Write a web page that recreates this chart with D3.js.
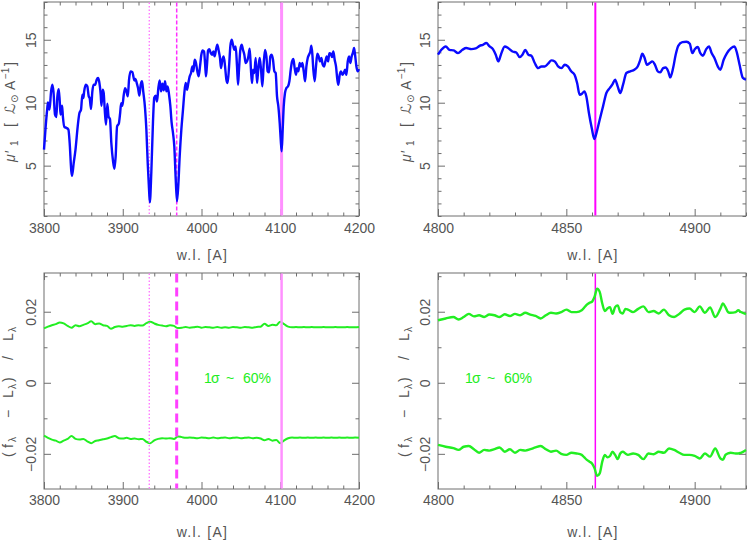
<!DOCTYPE html>
<html><head><meta charset="utf-8">
<script src="https://cdn.jsdelivr.net/npm/d3@7"></script>
<style>
html,body{margin:0;padding:0;background:#fff;}
svg{display:block;font-family:"Liberation Sans","DejaVu Sans",Arial,sans-serif;}
</style></head>
<body><svg id="c" width="747" height="541"></svg>
<script>
// ---------- data ----------
const tlWave = [3800,3802,3804,3805,3807,3809,3810.6,3812,3814,3815.7,3817,3818.7,3820,3821,3823,3824,3826,3828.5,3831,3832.6,3834.7,3835.6,3837.7,3840,3842.8,3845,3847,3848.7,3850,3851,3853,3855,3856.8,3858,3859.7,3861.4,3863,3865,3866.9,3868.6,3870,3872,3873,3874.5,3875.8,3877,3878.7,3880.4,3882,3883.8,3885.5,3887.7,3889.4,3891,3892.8,3895,3896.7,3898,3899.5,3901.3,3903,3904.7,3906.4,3908,3910,3912.2,3914.8,3916,3917.8,3919.4,3921.1,3922.8,3924.5,3926,3928.3,3930,3931.7,3933.4,3934.4,3936.3,3938.4,3940,3941.8,3943.5,3945.2,3946.9,3948.6,3950.3,3952,3953.7,3955.4,3957,3958.8,3960.4,3962.1,3963.8,3965.5,3967.2,3968.9,3970.6,3972.3,3974.4,3976.5,3978.2,3979.9,3981.6,3983.3,3985,3986.7,3988.4,3989.7,3991.3,3993,3994.7,3996.4,3998.1,3999.8,4001.5,4003.2,4004.5,4005.7,4007,4008.3,4010,4011.7,4013.4,4015,4016.7,4018.4,4020.1,4021.8,4023.5,4024.8,4026.5,4028.2,4029.9,4031.6,4033.2,4035,4036.6,4038.3,4040,4041.7,4043.4,4045.1,4046.4,4047.6,4049.3,4051,4052.7,4054.4,4056.1,4057.8,4059.5,4061.2,4062.9,4064.2,4065.4,4067.1,4068.8,4070.5,4072.2,4073.9,4075.6,4077.3,4079,4080.7,4082.4,4084,4085.8,4087.4,4089.1,4090.8,4092.5,4094.2,4095.9,4097.6,4099.3,4100.6,4101.8,4103.1,4104.4,4106,4107.8,4109.9,4111.6,4113.3,4115,4116.7,4118.3,4120,4121.3,4123,4124.7,4126.4,4128.1,4129.8,4131.5,4133.2,4134.9,4136.5,4138.2,4139.5,4140.8,4142,4143.7,4145.4,4147.1,4148.8,4150.5,4152.2,4153.9,4155.6,4157.3,4159,4160.7,4162.4,4164.1,4165.8,4167.4,4169.1,4170.8,4172.5,4173.8,4175.5,4177.2,4178.9,4180.6,4182.3,4184,4185.7,4187.4,4189,4190.7,4192.4,4193.7,4195,4196.7,4198.4,4200];
const tlFlux = [6.27,8.0,9.45,10.03,9.45,10.9,11.43,10.9,9.05,8.86,10.5,11.08,10.1,9.05,9.76,8.9,8.07,8.0,7.86,6.8,4.55,4.2,5.2,6.27,8.12,9.18,9.45,10.63,10.37,10.9,11.43,11.3,10.5,10.37,9.5,10.9,11.43,11.43,11.83,11.96,11.7,10.63,9.76,11.03,10.77,9.57,8.25,9.92,8.9,8.7,6.8,5.34,4.74,5.74,8.12,8.33,9.18,9.97,9.76,10.63,11.16,10.9,10.5,11.83,12.49,12.43,11.77,11.88,11.56,11.16,10.56,11.43,11.7,10.9,9.57,7.86,5.21,3.1,2.09,4.5,8.5,10.4,10.56,10.1,11.16,11.77,10.9,11.5,10.98,11.7,10.9,11.3,10.63,9.76,8.39,7.6,6.5,4.0,2.17,3.5,5.74,7.86,9.45,10.77,11.56,11.03,11.56,12.09,12.36,12.88,12.49,13.41,13.15,12.49,12.09,12.88,13.81,14.15,14.07,13.15,12.09,13.02,14.15,14.26,13.94,13.81,14.07,13.68,14.2,14.6,14.15,13.55,12.75,13.41,13.68,12.88,11.83,11.56,12.88,14.47,15.0,14.6,14.2,14.47,12.88,11.43,12.62,14.2,14.6,14.2,13.81,13.15,13.28,13.68,14.3,12.5,11.56,12.62,12.36,13.55,11.56,12.75,13.55,12.62,11.3,13.15,14.2,13.68,12.49,12.41,13.68,13.81,13.41,12.49,12.36,10.5,9.71,8.39,7.07,6.14,7.86,9.71,10.77,11.16,11.3,11.7,12.62,13.28,13.47,12.75,12.22,12.75,12.49,13.15,12.88,13.15,12.49,11.7,12.88,13.55,13.81,14.07,14.52,13.81,12.62,11.7,12.88,13.89,13.68,13.28,13.55,13.02,12.88,13.28,13.68,13.28,13.94,13.89,13.62,14.07,13.41,12.88,11.83,11.43,12.22,12.49,12.22,12.36,12.62,12.22,13.28,13.68,13.15,13.68,14.0,14.34,13.81,12.88,12.49,12.67];

const trWave = [4800,4801.3,4803,4804.5,4806.1,4807.8,4809.5,4811,4813,4814.7,4816.2,4817.5,4818.8,4820.1,4821.4,4822.5,4823.5,4824.5,4826,4827.3,4829,4830.5,4831.8,4832.9,4834,4835.2,4836.4,4837.7,4839,4840.3,4841.6,4842.9,4844.2,4845.5,4846.8,4848.1,4849.4,4850.6,4851.9,4853.2,4854.2,4855.2,4856.1,4857,4857.8,4858.8,4859.9,4860.9,4861.9,4863,4864.3,4865.6,4866.9,4867.9,4869,4870,4871,4872.1,4873.4,4874.9,4876.5,4877.8,4878.8,4879.6,4880.4,4881.4,4882.5,4883.5,4884.5,4885.6,4886.6,4887.7,4888.7,4889.7,4890.5,4891.6,4892.6,4893.6,4895.2,4896.8,4898.1,4899.1,4900.1,4901.2,4902.2,4903.2,4904.5,4905.6,4906.6,4907.7,4909,4910,4911.3,4912.6,4914.2,4915.5,4916.5,4917.5,4918.8,4920];
const trFlux = [13.81,14.2,14.47,14.2,14.15,13.94,14.2,14.34,14.26,14.31,14.52,14.6,14.74,14.47,14.26,13.81,13.28,13.81,14.47,14.34,14.07,13.99,13.62,13.81,14.2,13.81,13.73,13.15,12.75,12.88,12.88,13.1,13.36,13.28,12.88,12.75,13.02,12.88,12.49,12.22,11.56,10.63,10.71,10.9,10.5,9.18,7.99,7.12,7.72,8.65,9.71,10.77,11.16,11.43,11.83,11.3,10.77,11.43,12.36,12.49,12.62,12.88,13.41,13.89,13.62,13.02,13.15,13.28,13.02,12.49,12.41,12.75,12.8,12.49,12.01,12.75,13.81,14.52,14.81,14.84,14.68,13.94,14.26,14.42,13.94,13.73,14.26,14.47,13.94,13.55,12.88,12.62,13.41,13.94,14.34,14.47,13.94,13.02,11.96,11.83];

const blWave = [3800,3805,3810,3815,3820,3825,3830,3835,3840,3845,3850,3855,3860,3865,3870,3875,3880,3885,3890,3895,3900,3905,3910,3915,3920,3925,3930,3935,3940,3945,3950,3955,3960,3965,3970,3975,3980,3985,3990,3995,4000,4005,4010,4015,4020,4025,4030,4035,4040,4045,4050,4055,4060,4065,4070,4075,4080,4085,4090,4095,4100,4105,4110,4115,4120,4125,4130,4135,4140,4145,4150,4155,4160,4165,4170,4175,4180,4185,4190,4195,4200];
const blUpper = [0.0153,0.0158,0.0162,0.0165,0.0170,0.0167,0.0160,0.0155,0.0162,0.0159,0.0163,0.0167,0.0173,0.0165,0.0167,0.0162,0.0160,0.0152,0.0157,0.0159,0.0158,0.0160,0.0162,0.0160,0.0162,0.0161,0.0168,0.0172,0.0167,0.0163,0.0161,0.0159,0.0162,0.0160,0.0154,0.0155,0.0157,0.0155,0.0156,0.0158,0.0155,0.0157,0.0156,0.0155,0.0157,0.0155,0.0156,0.0155,0.0157,0.0156,0.0155,0.0157,0.0156,0.0155,0.0157,0.0158,0.0166,0.0160,0.0163,0.0162,0.0172,0.0165,0.0158,0.0156,0.0157,0.0156,0.0157,0.0156,0.0157,0.0156,0.0156,0.0157,0.0156,0.0156,0.0157,0.0156,0.0156,0.0157,0.0156,0.0156,0.0157];
const blLower = [-0.0149,-0.0155,-0.0160,-0.0163,-0.0168,-0.0163,-0.0158,-0.0150,-0.0158,-0.0160,-0.0158,-0.0165,-0.0170,-0.0164,-0.0162,-0.0159,-0.0157,-0.0153,-0.0150,-0.0156,-0.0157,-0.0155,-0.0158,-0.0157,-0.0159,-0.0158,-0.0166,-0.0170,-0.0162,-0.0158,-0.0156,-0.0157,-0.0156,-0.0158,-0.0151,-0.0153,-0.0155,-0.0154,-0.0155,-0.0156,-0.0154,-0.0155,-0.0156,-0.0154,-0.0156,-0.0155,-0.0154,-0.0156,-0.0155,-0.0154,-0.0156,-0.0155,-0.0154,-0.0156,-0.0155,-0.0157,-0.0162,-0.0158,-0.0163,-0.0161,-0.0170,-0.0162,-0.0156,-0.0154,-0.0155,-0.0154,-0.0155,-0.0154,-0.0155,-0.0154,-0.0155,-0.0154,-0.0155,-0.0154,-0.0155,-0.0154,-0.0155,-0.0154,-0.0155,-0.0154,-0.0155];

const brWave = [4800,4803,4806,4808,4810,4812,4814,4816,4818,4820,4822,4824,4826,4828,4830,4832,4834,4836,4838,4840,4842,4844,4846,4848,4850,4852,4854,4856,4857,4858,4859,4860,4861,4862,4863,4864,4865,4866,4867,4868,4869,4870,4871,4872,4873,4874,4876,4878,4880,4882,4884,4886,4888,4890,4892,4894,4896,4898,4900,4902,4904,4906,4908,4910,4911,4912,4913,4914,4916,4917,4918,4920];
const brUpper = [0.0176,0.0181,0.0185,0.0178,0.0185,0.0194,0.0187,0.0190,0.0185,0.0192,0.0190,0.0185,0.0193,0.0188,0.0194,0.0190,0.0197,0.0192,0.0188,0.0181,0.0190,0.0197,0.0195,0.0199,0.0206,0.0199,0.0199,0.0204,0.0212,0.0220,0.0225,0.0228,0.0242,0.0265,0.0256,0.0223,0.0202,0.0209,0.0213,0.0194,0.0213,0.0218,0.0199,0.0195,0.0208,0.0206,0.0199,0.0208,0.0215,0.0199,0.0202,0.0195,0.0206,0.0190,0.0185,0.0194,0.0206,0.0209,0.0199,0.0215,0.0197,0.0212,0.0185,0.0208,0.0223,0.0213,0.0199,0.0197,0.0199,0.0204,0.0199,0.0193];
const brLower = [-0.0175,-0.0180,-0.0184,-0.0189,-0.0180,-0.0178,-0.0187,-0.0197,-0.0189,-0.0191,-0.0187,-0.0182,-0.0194,-0.0187,-0.0197,-0.0189,-0.0191,-0.0187,-0.0182,-0.0178,-0.0187,-0.0194,-0.0191,-0.0200,-0.0203,-0.0197,-0.0199,-0.0203,-0.0210,-0.0217,-0.0222,-0.0227,-0.0241,-0.0262,-0.0255,-0.0222,-0.0203,-0.0210,-0.0206,-0.0194,-0.0203,-0.0215,-0.0199,-0.0194,-0.0199,-0.0203,-0.0199,-0.0203,-0.0215,-0.0199,-0.0201,-0.0194,-0.0197,-0.0185,-0.0189,-0.0197,-0.0203,-0.0203,-0.0206,-0.0213,-0.0199,-0.0208,-0.0185,-0.0213,-0.0217,-0.0203,-0.0199,-0.0197,-0.0199,-0.0199,-0.0197,-0.0189];

const leftMarkers = [3933.7, 3968.5, 4101.7];   // Ca K, Ca H, H-delta
const rightMarkers = [4861.3];                  // H-beta
const sigmaParts = ["1", "σ", "~", "60%"];
const xTitle = "w.l. [A]";

// ---------- drawing ----------
const svg = d3.select('#c');
const frameColor = '#6e6e6e', textColor = '#555';
const blue = '#0a0aff', green = '#22ee22';

function panel(cfg) {
  const g = svg.append('g');
  const x = d3.scaleLinear().domain(cfg.xDom).range([cfg.x0, cfg.x1]);
  const y = d3.scaleLinear().domain(cfg.yDom).range([cfg.y1, cfg.y0]);
  const mk = (fn, scale, vals, size, tr, fmt) => {
    const a = fn(scale).tickValues(vals).tickSizeInner(size).tickSizeOuter(0).tickPadding(0);
    a.tickFormat(fmt || (() => ''));
    const ag = g.append('g').attr('transform', tr).call(a);
    ag.select('.domain').remove();
    ag.selectAll('line').attr('stroke', frameColor).attr('stroke-width', 1);
    ag.selectAll('text').attr('fill', textColor).attr('font-size', 14);
    return ag;
  };
  const xMin = cfg.xMinor.filter(v => !cfg.xMajor.includes(v));
  const yMin = cfg.yMinor.filter(v => !cfg.yMajor.some(m => Math.abs(m - v) < 1e-9));
  const bx = mk(d3.axisBottom, x, cfg.xMajor, -7, `translate(0,${cfg.y1})`, d3.format('d'));
  bx.selectAll('text').attr('y', cfg.tickLabDy).attr('dy', 0);
  mk(d3.axisBottom, x, xMin, -3.5, `translate(0,${cfg.y1})`);
  mk(d3.axisTop, x, cfg.xMajor, -7, `translate(0,${cfg.y0})`);
  mk(d3.axisTop, x, xMin, -3.5, `translate(0,${cfg.y0})`);
  const ly = mk(d3.axisLeft, y, cfg.yMajor, -7, `translate(${cfg.x0},0)`, cfg.yFmt);
  ly.selectAll('text').attr('x', 0).attr('y', 0).attr('dy', 0)
    .attr('text-anchor', 'middle').attr('transform', 'translate(-8,0) rotate(-90)');
  mk(d3.axisLeft, y, yMin, -3.5, `translate(${cfg.x0},0)`);
  mk(d3.axisRight, y, cfg.yMajor, -7, `translate(${cfg.x1},0)`);
  mk(d3.axisRight, y, yMin, -3.5, `translate(${cfg.x1},0)`);
  g.append('rect').attr('x', cfg.x0).attr('y', cfg.y0)
    .attr('width', cfg.x1 - cfg.x0).attr('height', cfg.y1 - cfg.y0)
    .attr('fill', 'none').attr('stroke', frameColor).attr('stroke-width', 1);
  g.append('text').attr('x', (cfg.x0 + cfg.x1) / 2 + 1).attr('y', cfg.titleY)
    .attr('text-anchor', 'middle').attr('font-size', 14).attr('fill', textColor)
    .attr('letter-spacing', 1.3).text(xTitle);
  return { g, x, y };
}

function markers(p, waves, styles, cfg) {
  waves.forEach((w, i) => {
    const s = styles[i];
    p.g.append('line').attr('x1', p.x(w)).attr('x2', p.x(w))
      .attr('y1', cfg.y0 + 0.5).attr('y2', cfg.y1 - 0.5)
      .attr('stroke', s.c).attr('stroke-width', s.w)
      .attr('stroke-dasharray', s.d || null);
  });
}

function curve(p, xs, ys, color, width) {
  const line = d3.line().x(d => p.x(d[0])).y(d => p.y(d[1])).curve(d3.curveMonotoneX);
  p.g.append('path').datum(d3.zip(xs, ys)).attr('d', line)
    .attr('fill', 'none').attr('stroke', color).attr('stroke-width', width)
    .attr('stroke-linejoin', 'round');
}

function sigmaText(p, lamStart, val) {
  const x0 = p.x(lamStart), offs = [0, 7, 22, 39];
  const t = p.g.append('text').attr('y', p.y(val)).attr('font-size', 14).attr('fill', green);
  sigmaParts.forEach((s, i) => t.append('tspan').attr('x', x0 + offs[i]).text(s));
}

const topFmt = d3.format('d');
const botFmt = d => d === 0 ? '0' : d3.format('.2f')(d);

const TL = { x0: 44, x1: 359, y0: 2, y1: 216, xDom: [3800, 4200], yDom: [1, 18],
  xMajor: [3800, 3900, 4000, 4100, 4200], xMinor: d3.range(3800, 4201, 20),
  yMajor: [5, 10, 15], yMinor: d3.range(1, 18.1, 1), yFmt: topFmt, tickLabDy: 17, titleY: 260 };
const TR = { x0: 438, x1: 746, y0: 2, y1: 216, xDom: [4800, 4920], yDom: [1, 18],
  xMajor: [4800, 4850, 4900], xMinor: d3.range(4800, 4921, 10),
  yMajor: [5, 10, 15], yMinor: d3.range(1, 18.1, 1), yFmt: topFmt, tickLabDy: 17, titleY: 260 };
const BL = { x0: 44, x1: 359, y0: 273, y1: 489, xDom: [3800, 4200], yDom: [-0.0299, 0.0309],
  xMajor: [3800, 3900, 4000, 4100, 4200], xMinor: d3.range(3800, 4201, 20),
  yMajor: [-0.02, 0, 0.02], yMinor: [-0.02, -0.01, 0, 0.01, 0.02, 0.03], yFmt: botFmt, tickLabDy: 16, titleY: 537 };
const BR = Object.assign({}, BL, { x0: 438, x1: 746, xDom: [4800, 4920],
  xMajor: [4800, 4850, 4900], xMinor: d3.range(4800, 4921, 10) });

const pTL = panel(TL);
markers(pTL, leftMarkers, [
  { c: '#ff7cff', w: 1.4, d: '1.5,2' },
  { c: '#ff30ff', w: 1.5, d: '4,2' },
  { c: '#ff90ff', w: 3 }], TL);
curve(pTL, tlWave, tlFlux, blue, 2.4);

const pTR = panel(TR);
markers(pTR, rightMarkers, [{ c: '#ff00ff', w: 2 }], TR);
curve(pTR, trWave, trFlux, blue, 2.4);

const pBL = panel(BL);
curve(pBL, blWave, blUpper, green, 2);
curve(pBL, blWave, blLower, green, 2);
markers(pBL, leftMarkers, [
  { c: '#ff7cff', w: 1.4, d: '1.5,2' },
  { c: '#ff40ff', w: 3, d: '9,5' },
  { c: '#ff90ff', w: 2.5 }], BL);
sigmaText(pBL, 4003.2, -0.0002);

const pBR = panel(BR);
markers(pBR, rightMarkers, [{ c: '#ff00ff', w: 1.5 }], BR);
curve(pBR, brWave, brUpper, green, 2.4);
curve(pBR, brWave, brLower, green, 2.4);
sigmaText(pBR, 4810.5, -0.0002);

// y titles (rotated, reading upward); pieces placed along the text direction
function yTitleTop(bx, by) {
  const t = svg.append('text').attr('transform', `translate(${bx},${by}) rotate(-90)`)
    .attr('font-size', 14).attr('fill', textColor);
  const parts = [
    { s: 'μ', x: 0, dy: 0, it: true },
    { s: '′', x: 9, dy: 0 },
    { s: '1', x: 16, dy: 3, small: true },
    { s: '[', x: 35, dy: -3 },
    { s: 'ℒ', x: 48, dy: 0, it: true },
    { s: '⊙', x: 59, dy: 3, small: true },
    { s: 'A', x: 72, dy: -3 },
    { s: '−1', x: 83, dy: -6, small: true },
    { s: ']', x: 96, dy: 6 }];
  parts.forEach(p => {
    const ts = t.append('tspan').attr('x', p.x).attr('dy', p.dy).text(p.s);
    if (p.small) ts.attr('font-size', 10);
    if (p.it) ts.attr('font-style', 'italic');
  });
}
function yTitleBot(bx, by) {
  const t = svg.append('text').attr('transform', `translate(${bx},${by}) rotate(-90)`)
    .attr('font-size', 14).attr('fill', textColor);
  const parts = [
    { s: '(', x: 0, dy: 0 },
    { s: 'f', x: 9, dy: 0 },
    { s: 'λ', x: 15, dy: 3, small: true },
    { s: '−', x: 39, dy: -3 },
    { s: 'L', x: 59, dy: 0 },
    { s: 'λ', x: 68, dy: 3, small: true },
    { s: ')', x: 75, dy: -3 },
    { s: '/', x: 97, dy: 0 },
    { s: 'L', x: 116, dy: 0 },
    { s: 'λ', x: 125, dy: 3, small: true }];
  parts.forEach(p => {
    const ts = t.append('tspan').attr('x', p.x).attr('dy', p.dy).text(p.s);
    if (p.small) ts.attr('font-size', 10);
  });
}
yTitleTop(15, 162);
yTitleTop(411, 162);
yTitleBot(13, 457);
yTitleBot(409, 457);
</script></body></html>
